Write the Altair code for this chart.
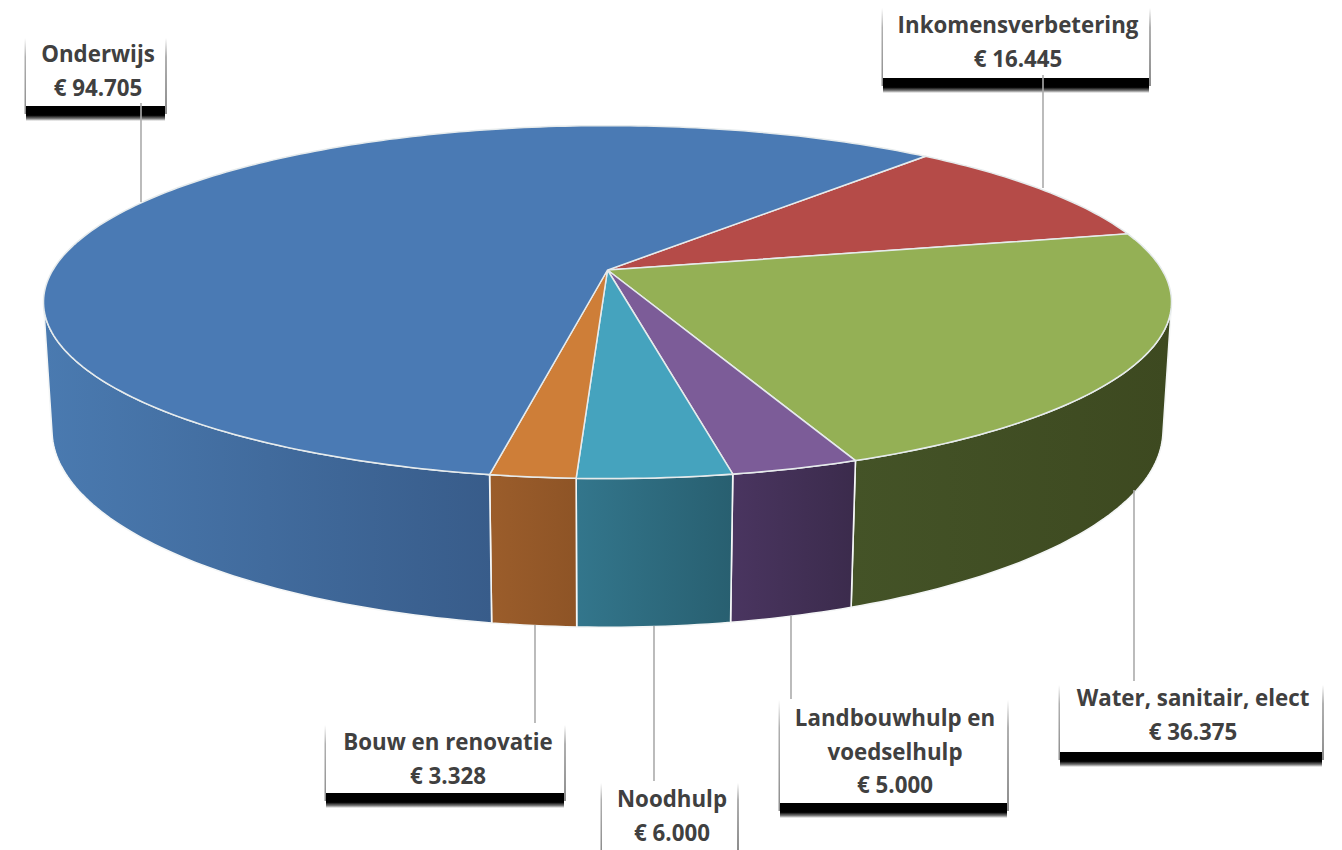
import math
import altair as alt

# ---- data ----
names = ["Inkomensverbetering", "Water, sanitair, elect", "Landbouwhulp en voedselhulp",
         "Noodhulp", "Bouw en renovatie", "Onderwijs"]
values = [16445, 36375, 5000, 6000, 3328, 94705]
value_labels = ["€ 16.445", "€ 36.375", "€ 5.000", "€ 6.000", "€ 3.328", "€ 94.705"]
label_lines = [["Inkomensverbetering"], ["Water, sanitair, elect"], ["Landbouwhulp en", "voedselhulp"],
               ["Noodhulp"], ["Bouw en renovatie"], ["Onderwijs"]]
top_colors = ["#B54B48", "#94B055", "#7C5C98", "#45A3BE", "#CE7E38", "#4A7AB4"]
wall_from = ["#6E2D2B", "#445327", "#4A3560", "#33768C", "#9B5D2B", "#4A7AB0"]
wall_to = ["#6E2D2B", "#3D4920", "#3B2B4C", "#285F70", "#8E5426", "#385C8A"]

# ---- layout (page pixels; the chart starts 8px in) ----
OFF = 8
W, H = 1326, 842
START = 40.7
CX, CY = 607.5, 270.0
A, B, C, K, M = 554.6, 170.6, 127.0, 0.1818, 0.0148
# box: left, right, top, bottom; text centre; first baseline; leader x, y1, y2
layout = [
    (883, 1149, 8, 78, 1018, 33, 1043, 75, 188),
    (1060, 1322, 685, 752, 1193, 706, 1134, 490, 681),
    (780, 1007, 700, 803, 895, 726, 791, 616, 699),
    (602, 737, 783, 860, 672, 807, 654, 626, 781),
    (326, 564, 725, 793, 448, 750, 535, 625, 723),
    (26, 165, 38, 106, 98, 62, 141, 103, 202),
]
FONT = "Open Sans"
FSIZE = 22.3
LINE = 33.5


def pt(theta, low):
    t = math.radians(theta)
    u, v = math.sin(t), -math.cos(t)
    w = 1 - K * v + (M if low else 0)
    return [CX + A * u / w - OFF, CY + (B * v + (C if low else 0)) / w - OFF]


def tangency(lo, hi):
    def f(th):
        a, b = pt(th - 0.01, False), pt(th + 0.01, False)
        p, q = pt(th, False), pt(th, True)
        return (b[0] - a[0]) * (q[1] - p[1]) - (b[1] - a[1]) * (q[0] - p[0])
    flo = f(lo)
    for _ in range(50):
        mid = (lo + hi) / 2
        if (f(mid) > 0) == (flo > 0):
            lo = mid
        else:
            hi = mid
    return (lo + hi) / 2


def arc(a, b, low):
    n = max(2, int(abs(b - a)) + 1)
    return [pt(a + (b - a) * i / n, low) for i in range(n + 1)]


PROJ = alt.Projection(type="identity", scale=1, translate=[0, 0])
total = sum(values)
spans = []
cur = START
for val in values:
    spans.append((cur, cur + val / total * 360))
    cur += val / total * 360

TH_R = tangency(85, 130)
TH_L = tangency(235, 290)

layers = []
# side walls: only the part facing the viewer
for i, (a, b) in enumerate(spans):
    lo, hi = max(a, TH_R), min(b, TH_L)
    if hi <= lo:
        continue
    ring = arc(lo, hi, False) + arc(hi, lo, True)
    ring.append(ring[0])
    feat = {"type": "Feature", "properties": {"name": names[i]},
            "geometry": {"type": "Polygon", "coordinates": [ring]}}
    grad = alt.LinearGradient(gradient="linear", x1=0, y1=0, x2=1, y2=0,
                              stops=[alt.GradientStop(color=wall_from[i], offset=0),
                                     alt.GradientStop(color=wall_to[i], offset=1)])
    layers.append(alt.Chart(alt.Data(values=[feat])).mark_geoshape(
        fill=grad, stroke="#F4F6F6", strokeWidth=1.6).project(**PROJ.to_dict()))

# top faces
tops = []
for i, (a, b) in enumerate(spans):
    ring = [pt_ for pt_ in arc(a, b, False)]
    ring = [[CX - OFF, CY - OFF]] + ring + [[CX - OFF, CY - OFF]]
    tops.append({"type": "Feature", "properties": {"name": names[i], "fill": top_colors[i]},
                 "geometry": {"type": "Polygon", "coordinates": [ring]}})
layers.append(alt.Chart(alt.Data(values=tops)).mark_geoshape(
    stroke="#E6EBEC", strokeWidth=1.5).encode(
    fill=alt.Fill("properties.fill:N", scale=None)).project(**PROJ.to_dict()))

# label boxes
sx = lambda f: alt.X(f + ":Q", scale=None, axis=None)
sy = lambda f: alt.Y(f + ":Q", scale=None, axis=None)
sx2 = lambda f: alt.X2(f)
sy2 = lambda f: alt.Y2(f)


def rect_layer(rows, **mark):
    return alt.Chart(alt.Data(values=rows)).mark_rect(**mark).encode(
        x=sx("a"), x2=sx2("b"), y=sy("c"), y2=sy2("d"))


boxes, shadows, halos, rules, texts = [], [], [], [], []
for i, (l, r, t, bt, tc, base, lx, ly1, ly2) in enumerate(layout):
    l, r, t, bt, tc, base, lx, ly1, ly2 = [z - OFF for z in (l, r, t, bt, tc, base, lx, ly1, ly2)]
    boxes.append(dict(a=l, b=r, c=t, d=min(bt, H)))
    if bt < H:
        shadows.append(dict(a=l, b=r, c=bt, d=bt + 15))
    halos.append(dict(a=l - 1.5, b=l, c=t, d=min(bt + 8, H)))
    halos.append(dict(a=r, b=r + 2, c=t, d=min(bt + 8, H)))
    rules.append(dict(x=lx, y=ly1, y2=ly2))
    lines = label_lines[i] + [value_labels[i]]
    for n, s in enumerate(lines):
        texts.append(dict(x=tc, y=base + n * LINE, s=s))

layers.append(rect_layer(halos, fill=alt.LinearGradient(
    gradient="linear", x1=0, y1=0, x2=0, y2=1,
    stops=[alt.GradientStop(color="#FFFFFF", offset=0),
           alt.GradientStop(color="#B0B0B0", offset=0.25),
           alt.GradientStop(color="#8C8C8C", offset=1)])))
layers.append(rect_layer(shadows, fill=alt.LinearGradient(
    gradient="linear", x1=0, y1=0, x2=0, y2=1,
    stops=[alt.GradientStop(color="#000000", offset=0),
           alt.GradientStop(color="#000000", offset=0.62),
           alt.GradientStop(color="#7A7A7A", offset=0.84),
           alt.GradientStop(color="#FFFFFF", offset=1)])))
layers.append(rect_layer(boxes, fill="#FFFFFF"))
layers.append(alt.Chart(alt.Data(values=rules)).mark_rule(color="#ABABAB", strokeWidth=1.6).encode(
    x=sx("x"), y=sy("y"), y2=sy2("y2")))
layers.append(alt.Chart(alt.Data(values=texts)).mark_text(
    font=FONT, fontWeight="bold", fontSize=FSIZE, color="#404040",
    align="center", baseline="alphabetic").encode(
    x=sx("x"), y=sy("y"), text="s:N"))

chart = alt.layer(*layers).properties(width=W, height=H, padding=0, background="#FFFFFF",
                                      autosize=alt.AutoSizeParams(type="none")).configure_view(stroke=None)
chart.save("out.html", embed_options={"renderer": "svg", "actions": False})
